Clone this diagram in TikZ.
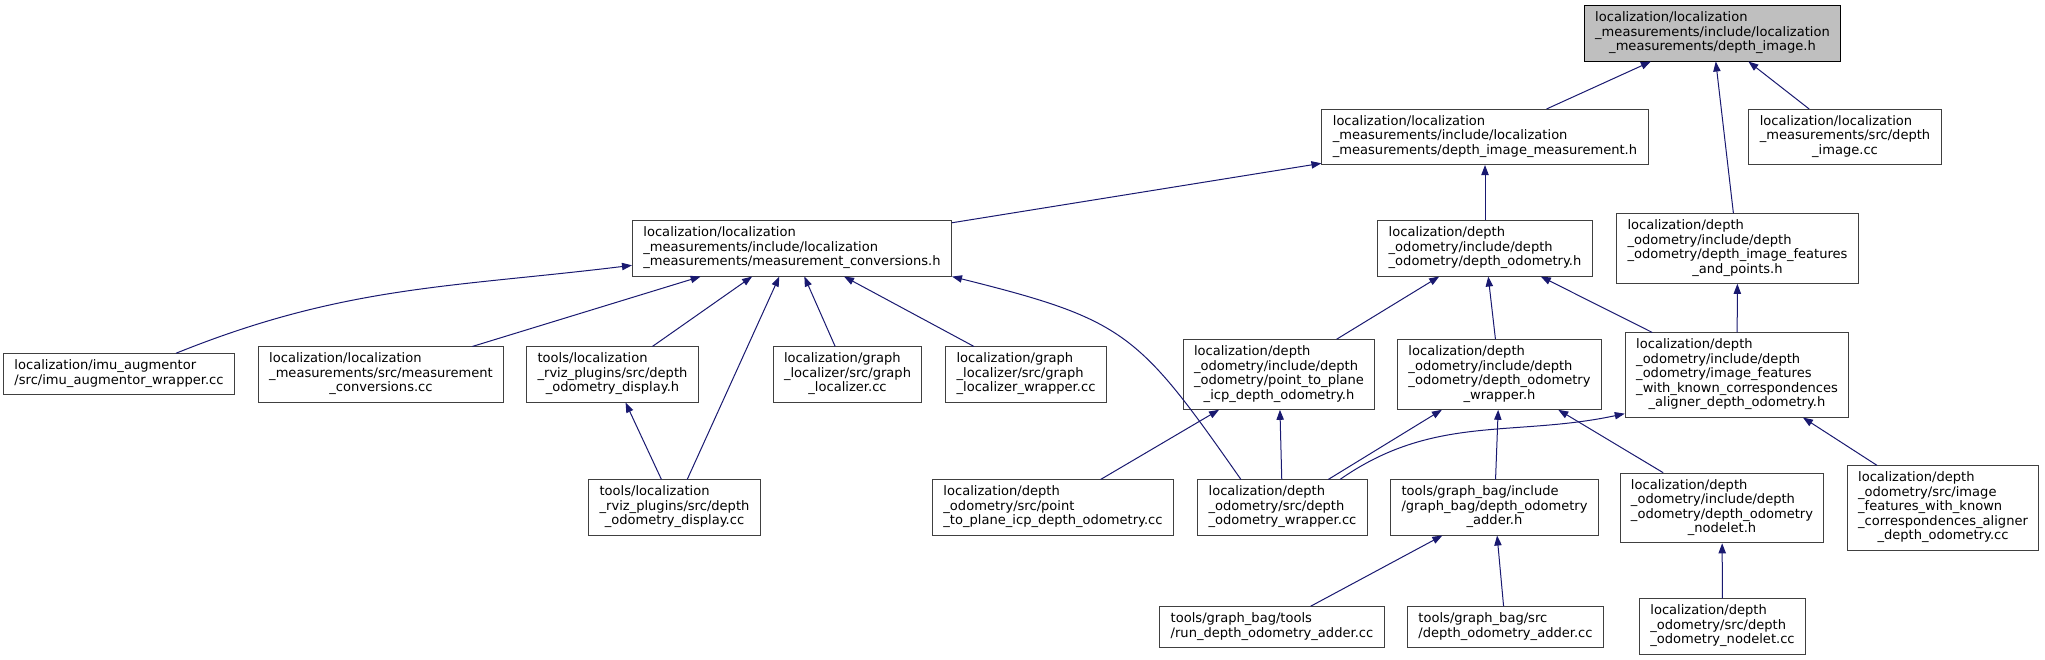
\documentclass[tikz,border=0pt]{standalone}
\usepackage{fontspec}
\setmainfont{DejaVu Sans}
\usepackage{xcolor}
\usepackage{tikz}
\usetikzlibrary{arrows.meta}
\definecolor{edgeblue}{HTML}{191970}
\definecolor{boxline}{HTML}{404040}
\definecolor{rootfill}{HTML}{BFBFBF}
\newcommand{\fl}[2]{\begin{tabular}{@{}l@{}}#1\\\multicolumn{1}{@{}c@{}}{#2}\end{tabular}}

\begin{document}
\begin{tikzpicture}[
  x=0.75pt,y=-0.75pt,
  file/.style={draw=boxline,fill=white,line width=0.75pt,inner xsep=8.2pt,inner ysep=4.3pt,font=\fontsize{9.8}{10.9}\selectfont},
  rootfile/.style={file,fill=rootfill,draw=black},
  arr/.style={-{Triangle[length=7.5pt,width=5.5pt]},line width=0.75pt,edgeblue}
]
\useasboundingbox (0,0) rectangle (2045,660);

\node[rootfile] (depthimage) at (1712.5,33.5) {\fl{localization/localization\\\_measurements/include/localization}{\_measurements/depth\_image.h}};

\node[file] (imgmeas) at (1485,137) {\fl{localization/localization\\\_measurements/include/localization}{\_measurements/depth\_image\_measurement.h}};
\node[file] (depthimgcc) at (1845,137) {\fl{localization/localization\\\_measurements/src/depth}{\_image.cc}};

\node[file] (convh) at (792,248.5) {\fl{localization/localization\\\_measurements/include/localization}{\_measurements/measurement\_conversions.h}};
\node[file] (odomh) at (1485,248.5) {\fl{localization/depth\\\_odometry/include/depth}{\_odometry/depth\_odometry.h}};
\node[file] (feath) at (1737.5,248.5) {\fl{localization/depth\\\_odometry/include/depth\\\_odometry/depth\_image\_features}{\_and\_points.h}};

\node[file] (imucc) at (119,374) {\fl{localization/imu\_augmentor}{/src/imu\_augmentor\_wrapper.cc}};
\node[file] (convcc) at (381,374.5) {\fl{localization/localization\\\_measurements/src/measurement}{\_conversions.cc}};
\node[file] (disph) at (612.5,374.5) {\fl{tools/localization\\\_rviz\_plugins/src/depth}{\_odometry\_display.h}};
\node[file] (loccc) at (847.5,374.5) {\fl{localization/graph\\\_localizer/src/graph}{\_localizer.cc}};
\node[file] (locwrapcc) at (1026,374.5) {\fl{localization/graph\\\_localizer/src/graph}{\_localizer\_wrapper.cc}};
\node[file] (ptplaneh) at (1279,374.5) {\fl{localization/depth\\\_odometry/include/depth\\\_odometry/point\_to\_plane}{\_icp\_depth\_odometry.h}};
\node[file] (wraph) at (1499.5,374.5) {\fl{localization/depth\\\_odometry/include/depth\\\_odometry/depth\_odometry}{\_wrapper.h}};
\node[file] (alignh) at (1737,375) {\fl{localization/depth\\\_odometry/include/depth\\\_odometry/image\_features\\\_with\_known\_correspondences}{\_aligner\_depth\_odometry.h}};

\node[file] (dispcc) at (674.5,507.5) {\fl{tools/localization\\\_rviz\_plugins/src/depth}{\_odometry\_display.cc}};
\node[file] (ptplanecc) at (1053,507.5) {\fl{localization/depth\\\_odometry/src/point}{\_to\_plane\_icp\_depth\_odometry.cc}};
\node[file] (wrapcc) at (1282.5,507.5) {\fl{localization/depth\\\_odometry/src/depth}{\_odometry\_wrapper.cc}};
\node[file] (adderh) at (1494.5,507.5) {\fl{tools/graph\_bag/include\\/graph\_bag/depth\_odometry}{\_adder.h}};
\node[file] (nodeleth) at (1722,508) {\fl{localization/depth\\\_odometry/include/depth\\\_odometry/depth\_odometry}{\_nodelet.h}};
\node[file] (aligncc) at (1943,508) {\fl{localization/depth\\\_odometry/src/image\\\_features\_with\_known\\\_correspondences\_aligner}{\_depth\_odometry.cc}};

\node[file] (runaddercc) at (1272,627) {\fl{tools/graph\_bag/tools}{/run\_depth\_odometry\_adder.cc}};
\node[file] (addercc) at (1505.5,627) {\fl{tools/graph\_bag/src}{/depth\_odometry\_adder.cc}};
\node[file] (nodeletcc) at (1722.5,626.5) {\fl{localization/depth\\\_odometry/src/depth}{\_odometry\_nodelet.cc}};

\draw[arr] (imgmeas) -- (depthimage);
\draw[arr] (feath) -- (depthimage);
\draw[arr] (depthimgcc) -- (depthimage);
\draw[arr] (convh) -- (imgmeas);
\draw[arr] (odomh) -- (imgmeas);
\draw[arr] (imucc.20) to[out=22,in=187] (convh.186);
\draw[arr] (convcc) -- (convh);
\draw[arr] (disph) -- (convh);
\draw[arr] (dispcc) -- (convh);
\draw[arr] (loccc) -- (convh);
\draw[arr] (locwrapcc) -- (convh);
\draw[arr] (wrapcc.146) to[out=125,in=-14,looseness=1.3] (convh.south east);
\draw[arr] (dispcc) -- (disph);
\draw[arr] (ptplaneh) -- (odomh);
\draw[arr] (wraph) -- (odomh);
\draw[arr] (alignh) -- (odomh);
\draw[arr] (alignh) -- (feath);
\draw[arr] (ptplanecc) -- (ptplaneh);
\draw[arr] (wrapcc) -- (ptplaneh);
\draw[arr] (wrapcc) -- (wraph);
\draw[arr] (wrapcc.26) to[out=35,in=192] (alignh.199);
\draw[arr] (adderh) -- (wraph);
\draw[arr] (nodeleth) -- (wraph);
\draw[arr] (aligncc) -- (alignh);
\draw[arr] (runaddercc) -- (adderh);
\draw[arr] (addercc) -- (adderh);
\draw[arr] (nodeletcc) -- (nodeleth);

\end{tikzpicture}
\end{document}
